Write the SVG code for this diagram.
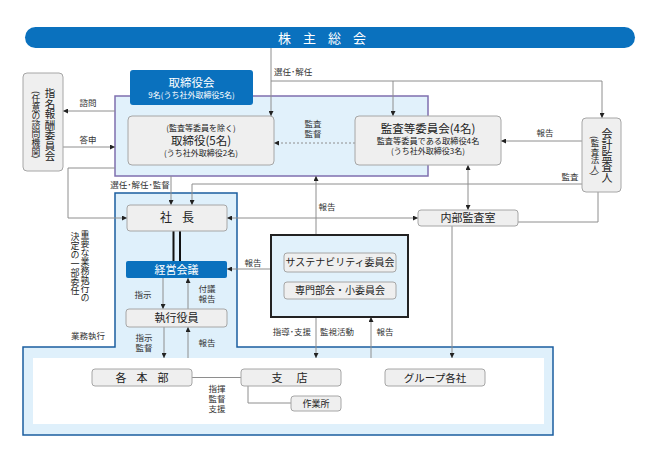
<svg xmlns="http://www.w3.org/2000/svg" width="645" height="461" viewBox="0 0 645 461">
<defs>
<style>
text{font-family:"Noto Sans CJK JP","Noto Sans",sans-serif;fill:#222}
.box{fill:#EFEFEF;stroke:#A6A6A6;stroke-width:1}
.blue{fill:#0A71BE}
.wt{fill:#fff}
.lbl{font-size:8.5px;fill:#333}
.c{text-anchor:middle}
.ln{fill:none;stroke:#8E8E8E;stroke-width:1}
.vt{writing-mode:vertical-rl}
</style>
<marker id="arr" viewBox="0 0 6 6" refX="6" refY="3" markerWidth="5" markerHeight="5" orient="auto-start-reverse" markerUnits="userSpaceOnUse">
<path d="M0,0 L6,3 L0,6 z" fill="#222"/>
</marker>
</defs>
<rect width="645" height="461" fill="#fff"/>

<g id="exec-region">
<path d="M115,193 H237 V347 H553 V435 H23 V347 H115 Z" fill="#DFF0FB" stroke="#1B5EA0" stroke-width="1.5"/>
<rect x="33" y="358" width="511" height="66" fill="#fff"/>
</g>

<g id="board-panel">
<rect x="115" y="96" width="313" height="80" fill="#E1F1FB" stroke="#7F6FAF" stroke-width="1.5"/>
</g>

<g id="shareholders">
<rect x="25" y="27" width="610" height="21" rx="10.5" class="blue"/>
<text x="328" y="42.5" class="c wt" font-size="13" letter-spacing="12">株主総会</text>
</g>

<g id="board-header">
<rect x="130" y="70" width="123" height="35" rx="3" class="blue"/>
<text x="191.5" y="86.5" class="c wt" font-size="11.5">取締役会</text>
<text x="191.5" y="97.5" class="c wt" font-size="8">9名(うち社外取締役5名)</text>
</g>

<g id="connectors">
<path class="ln" d="M271,48 V116" marker-end="url(#arr)"/>
<path class="ln" d="M271,81 H602 V118" marker-end="url(#arr)"/>
<path class="ln" d="M393,81 V116" marker-end="url(#arr)"/>
<path class="ln" d="M115,111 H63" marker-end="url(#arr)"/>
<path class="ln" d="M63,147 H115" marker-end="url(#arr)"/>
<path class="ln" d="M355,143 H274" stroke-dasharray="2,2" marker-end="url(#arr)"/>
<path class="ln" d="M582,141 H501" marker-end="url(#arr)"/>
<path class="ln" d="M582,184 H192 V205" marker-end="url(#arr)"/>
<path class="ln" d="M171,176 V205" marker-end="url(#arr)"/>
<path class="ln" d="M115,168 H68 V218 H127" marker-end="url(#arr)"/>
<path class="ln" d="M468,165 V210" marker-start="url(#arr)" marker-end="url(#arr)"/>
<path class="ln" d="M598,192 V222 H518"/>
<path class="ln" d="M227,218 H418" marker-start="url(#arr)" marker-end="url(#arr)"/>
<path class="ln" d="M316,235 V176" marker-end="url(#arr)"/>
<path class="ln" d="M271,269 H227" marker-end="url(#arr)"/>
<path d="M173.5,231 V261 M180,231 V261" fill="none" stroke="#111" stroke-width="2"/>
<path class="ln" d="M163,278 V309" marker-end="url(#arr)"/>
<path class="ln" d="M188,309 V278" marker-end="url(#arr)"/>
<path class="ln" d="M164,327 V358" marker-end="url(#arr)"/>
<path class="ln" d="M188,358 V327" marker-end="url(#arr)"/>
<path class="ln" d="M316,317 V358" marker-end="url(#arr)"/>
<path class="ln" d="M371,358 V317" marker-end="url(#arr)"/>
<path class="ln" d="M452,226 V358" marker-end="url(#arr)"/>
<path class="ln" d="M192,377.5 H241"/>
<path class="ln" d="M248,386 V403 H291"/>
<text x="274" y="75" class="lbl">選任･解任</text>
<text x="88" y="106" class="lbl c">諮問</text>
<text x="88" y="143" class="lbl c">答申</text>
<text class="lbl c" font-size="8"><tspan x="313" y="127">監査</tspan><tspan x="313" y="137">監督</tspan></text>
<text x="545" y="136" class="lbl c">報告</text>
<text x="570" y="180" class="lbl c">監査</text>
<text x="140" y="187.5" class="lbl c">選任･解任･監督</text>
<text x="327" y="210" class="lbl c">報告</text>
<text x="85" y="230" class="vt" font-size="9" fill="#333">重要な業務執行の</text>
<text x="75" y="232" class="vt" font-size="9" fill="#333">決定の一部委任</text>
<text x="253" y="266" class="lbl c">報告</text>
<text x="143" y="298" class="lbl c">指示</text>
<text class="lbl c" font-size="8"><tspan x="207" y="291.5">付議</tspan><tspan x="207" y="301.5">報告</tspan></text>
<text x="88" y="339" class="lbl c" font-size="9">業務執行</text>
<text class="lbl c" font-size="8"><tspan x="144" y="340.5">指示</tspan><tspan x="144" y="350.5">監督</tspan></text>
<text x="207" y="346" class="lbl c">報告</text>
<text x="292" y="335" class="lbl c">指導･支援</text>
<text x="337" y="335" class="lbl c">監視活動</text>
<text x="385" y="335" class="lbl c">報告</text>
<text class="lbl c" font-size="8"><tspan x="217" y="392">指揮</tspan><tspan x="217" y="402">監督</tspan><tspan x="217" y="412">支援</tspan></text>
</g>

<g id="nomination-committee">
<rect x="23" y="73" width="40" height="98" rx="4" class="box"/>
<text x="50" y="88" class="vt" font-size="10.5">指名報酬委員会</text>
<text x="36" y="91" class="vt" font-size="8.8">(任意の諮問機関)</text>
</g>

<g id="directors">
<rect x="128" y="116" width="146" height="49" rx="4" class="box"/>
<text class="c" font-size="8"><tspan x="201" y="131">(監査等委員を除く)</tspan></text>
<text x="201" y="144.5" class="c" font-size="11.5">取締役(5名)</text>
<text x="201" y="155.5" class="c" font-size="8">(うち社外取締役2名)</text>
</g>

<g id="audit-committee">
<rect x="355" y="116" width="146" height="49" rx="4" class="box"/>
<text x="428" y="133" class="c" font-size="11.5">監査等委員会(4名)</text>
<text x="428" y="144" class="c" font-size="8.2">監査等委員である取締役4名</text>
<text x="428" y="153.5" class="c" font-size="8">(うち社外取締役3名)</text>
</g>

<g id="accounting-auditor">
<rect x="582" y="118" width="39" height="74" rx="4" class="box"/>
<text x="607" y="128" class="vt" font-size="11">会計監査人</text>
<text x="595" y="136" class="vt" font-size="8.5">(監査法人)</text>
</g>

<g id="internal-audit">
<rect x="418" y="210" width="100" height="16" rx="3" class="box"/>
<text x="468" y="222" class="c" font-size="11">内部監査室</text>
</g>

<g id="president">
<rect x="127" y="205" width="100" height="26" rx="3" class="box"/>
<text x="182" y="222" class="c" font-size="12" letter-spacing="10">社長</text>
</g>

<g id="management-meeting">
<rect x="126" y="261" width="101" height="17" rx="2" class="blue"/>
<text x="176.5" y="273.5" class="c wt" font-size="11">経営会議</text>
</g>

<g id="executive-officers">
<rect x="126" y="309" width="101" height="18" rx="3" class="box"/>
<text x="176.5" y="322" class="c" font-size="11">執行役員</text>
</g>

<g id="sustainability-panel">
<rect x="271" y="235" width="137" height="82" fill="#E1F1FB" stroke="#222" stroke-width="2"/>
</g>
<g id="sustainability-committee">
<rect x="284" y="253" width="112" height="19" rx="3" class="box"/>
<text x="340" y="266" class="c" font-size="10">サステナビリティ委員会</text>
</g>
<g id="subcommittees">
<rect x="284" y="282" width="112" height="17" rx="3" class="box"/>
<text x="340" y="294" class="c" font-size="10">専門部会・小委員会</text>
</g>

<g id="headquarters">
<rect x="92" y="369" width="100" height="17" rx="3" class="box"/>
<text x="147" y="381.5" class="c" font-size="11" letter-spacing="10">各本部</text>
</g>
<g id="branches">
<rect x="241" y="369" width="100" height="17" rx="3" class="box"/>
<text x="296.5" y="381.5" class="c" font-size="11" letter-spacing="14">支店</text>
</g>
<g id="group-companies">
<rect x="385" y="369" width="100" height="17" rx="3" class="box"/>
<text x="435" y="381.5" class="c" font-size="10.5">グループ各社</text>
</g>
<g id="worksites">
<rect x="291" y="396" width="50" height="15" rx="3" class="box"/>
<text x="316" y="407" class="c" font-size="9">作業所</text>
</g>
</svg>
